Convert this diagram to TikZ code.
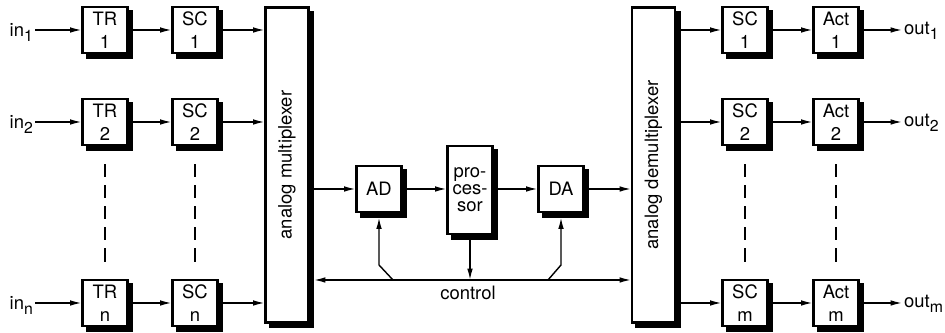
\documentclass[tikz,border=0pt]{standalone}
\usepackage{fontspec}
\setmainfont{TeX Gyre Heros}
\usepackage{tikz}
\usetikzlibrary{
	calc,
	arrows.meta,
	positioning,
	shadows
	}
\tikzstyle{bloc-std}=[draw,fill=white,line width=1.2pt,minimum width=0.9cm,minimum height=0.92cm,inner sep=1pt,align=center,font=\fontsize{10.5}{13}\selectfont,general shadow={shadow xshift=0.09cm,shadow yshift=-0.09cm,fill=black,draw=black,line width=1.2pt}]
\tikzstyle{bloc-mux}=[bloc-std,minimum width=0.86cm,minimum height=6.3cm]
\tikzstyle{fleche}=[line width=0.8pt,-{Latex[length=6.5pt,width=3.2pt]}]
\tikzstyle{pointilles}=[line width=0.8pt,dash pattern=on 7.5pt off 4.5pt]
\tikzstyle{etiquette}=[inner sep=1pt,font=\fontsize{10.5}{12}\selectfont]
\newcommand{\indice}[1]{\raisebox{-0.45ex}{\fontsize{9}{10}\selectfont #1}}

\begin{document}
\begin{tikzpicture}[x=0.02cm,y=0.02cm]
\useasboundingbox (0,0) rectangle (945,333);

\node[bloc-mux] (mux) at (287,168) {};
\node[bloc-mux] (demux) at (653.5,168) {};
\node[etiquette,rotate=90] (muxlab) at (mux) {analog multiplexer};
\node[etiquette,rotate=90] (demuxlab) at (demux) {analog demultiplexer};

\foreach \i/\y in {1/303, 2/211, n/30} {
	\node[etiquette,anchor=base east] (in\i) at (35,\y-7) {in\indice{\i}};
	\node[bloc-std] (tr\i) at (105,\y) {TR\\\i};
	\node[bloc-std] (sce\i) at (195,\y) {SC\\\i};
	\draw[fleche] (in\i.east |- tr\i) -- (tr\i);
	\draw[fleche] (tr\i) -- (sce\i);
	\draw[fleche] (sce\i) -- (sce\i -| mux.west);
}
\foreach \i/\y in {1/303, 2/211, m/30} {
	\node[bloc-std] (scs\i) at (745,\y) {SC\\\i};
	\node[bloc-std] (act\i) at (836,\y) {Act\\\i};
	\node[etiquette,anchor=base west] (out\i) at (902,\y-5) {out\indice{\i}};
	\draw[fleche] (demux.east |- scs\i) -- (scs\i);
	\draw[fleche] (scs\i) -- (act\i);
	\draw[fleche] (act\i) -- (out\i.west |- act\i);
}

\draw[pointilles,shorten <=0.36cm,shorten >=0.26cm] (tr2) -- (trn);
\draw[pointilles,shorten <=0.36cm,shorten >=0.26cm] (sce2) -- (scen);
\draw[pointilles,shorten <=0.36cm,shorten >=0.26cm] (scs2) -- (scsm);
\draw[pointilles,shorten <=0.36cm,shorten >=0.26cm] (act2) -- (actm);

\node[bloc-std] (ad) at (379,144) {AD};
\node[bloc-std,minimum height=1.76cm,font=\fontsize{10.5}{9.6}\selectfont] (proc) at (470,143) {pro-\\ces-\\sor};
\node[bloc-std] (da) at (561,144) {DA};

\draw[fleche] (mux.east |- ad) -- (ad);
\draw[fleche] (ad) -- (ad -| proc.west);
\draw[fleche] (proc.east |- da) -- (da);
\draw[fleche] (da) -- (da -| demux.west);

\coordinate (bus) at (470,53);
\coordinate (kad) at (393,53);
\coordinate (kda) at (548,53);
\draw[line width=0.8pt,{Latex[length=6.5pt,width=3.2pt]}-{Latex[length=6.5pt,width=3.2pt]},shorten <=0.09cm] (mux.east |- bus) -- (demux.west |- bus);
\draw[fleche,shorten >=0.09cm] (kad) -- (ad.south |- 0,68) -- (ad.south);
\draw[fleche,shorten >=0.09cm] (kda) -- (da.south |- 0,68) -- (da.south);
\draw[fleche] ([yshift=-0.09cm]proc.south) -- (bus);
\node[etiquette] (ctrllab) at (468,40) {control};
\end{tikzpicture}
\end{document}
